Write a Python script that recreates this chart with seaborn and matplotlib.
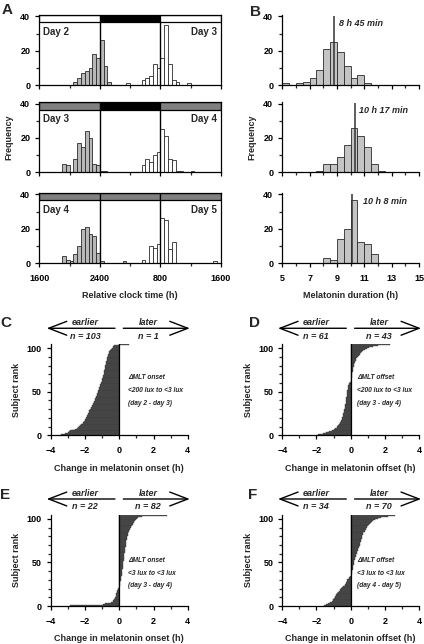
import numpy as np
import pandas as pd
import matplotlib
matplotlib.use("Agg")
import matplotlib.pyplot as plt
import seaborn as sns
from matplotlib.ticker import MultipleLocator, FixedLocator

# --- Panel A: onset (grey) and offset (white) times, hours after 1600, 30-min bins ---
a_onset_bins = [
    [4.5, 5.0, 5.5, 6.0, 6.5, 7.0, 7.5, 8.0, 8.5, 9.0],
    [3.0, 3.5, 4.5, 5.0, 5.5, 6.0, 6.5, 7.0, 7.5, 8.0, 8.5],
    [3.0, 3.5, 4.0, 4.5, 5.0, 5.5, 6.0, 6.5, 7.0, 7.5, 8.0, 11.0],
]
a_onset_counts = [
    [2, 4, 7, 8, 10, 18, 16, 26, 11, 2],
    [5, 4, 8, 17, 15, 24, 20, 5, 4, 1, 1],
    [4, 2, 1, 5, 10, 20, 21, 17, 16, 6, 1, 1],
]
a_offset_bins = [
    [11.5, 13.5, 14.0, 14.5, 15.0, 15.5, 16.0, 16.5, 17.0, 17.5, 18.0, 19.5],
    [13.5, 14.0, 14.5, 15.0, 15.5, 16.0, 16.5, 17.0, 17.5, 18.0, 18.5, 20.0],
    [13.5, 14.5, 15.0, 15.5, 16.0, 16.5, 17.0, 17.5, 23.0],
]
a_offset_counts = [
    [1, 3, 4, 5, 12, 10, 16, 35, 12, 3, 2, 1],
    [4, 8, 6, 10, 12, 25, 21, 8, 7, 1, 1, 1],
    [2, 10, 9, 11, 26, 25, 8, 12, 1],
]
day_labels = [("Day 2", "Day 3"), ("Day 3", "Day 4"), ("Day 4", "Day 5")]
light_starts = [0, 8, 16]
light_colors = [
    ["white", "black", "white"],
    ["#808080", "black", "#808080"],
    ["#808080", "#808080", "#808080"],
]
clock_ticks = [0, 8, 16, 24]
clock_labels = ["1600", "2400", "800", "1600"]

# --- Panel B: melatonin duration histograms (30-min bins) ---
b_bins = [
    [5.0, 6.0, 6.5, 7.0, 7.5, 8.0, 8.5, 9.0, 9.5, 10.0, 10.5, 11.0],
    [7.5, 8.0, 8.5, 9.0, 9.5, 10.0, 10.5, 11.0, 11.5, 12.0],
    [8.0, 8.5, 9.0, 9.5, 10.0, 10.5, 11.0, 11.5],
]
b_counts = [
    [1, 1, 2, 4, 9, 21, 25, 19, 11, 4, 6, 1],
    [1, 5, 5, 9, 16, 26, 21, 15, 5, 1],
    [3, 2, 14, 20, 37, 12, 11, 5],
]
b_medians = [8 + 45 / 60, 10 + 17 / 60, 10 + 8 / 60]
b_median_labels = ["8 h 45 min", "10 h 17 min", "10 h 8 min"]
b_ticks = [5, 7, 9, 11, 13, 15]

# --- Panels C-F: individual phase changes (h), sorted by subject rank ---
c_shift = [
    -3.4, -3.2, -3.0, -2.95, -2.9, -2.8, -2.6, -2.5, -2.4, -2.35, -2.3, -2.25,
    -2.2, -2.15, -2.1, -2.05, -2.02, -2.0, -1.98, -1.95, -1.92, -1.9, -1.88, -1.85,
    -1.83, -1.8, -1.78, -1.75, -1.72, -1.7, -1.67, -1.65, -1.62, -1.6, -1.57, -1.55,
    -1.52, -1.5, -1.47, -1.45, -1.43, -1.41, -1.39, -1.37, -1.35, -1.33, -1.31, -1.29,
    -1.27, -1.25, -1.24, -1.22, -1.2, -1.19, -1.17, -1.15, -1.13, -1.11, -1.09, -1.07,
    -1.05, -1.03, -1.02, -1.0, -0.99, -0.98, -0.96, -0.95, -0.94, -0.92, -0.91, -0.9,
    -0.89, -0.88, -0.87, -0.86, -0.85, -0.84, -0.83, -0.82, -0.81, -0.8, -0.79, -0.78,
    -0.76, -0.75, -0.74, -0.73, -0.72, -0.7, -0.68, -0.66, -0.64, -0.62, -0.6, -0.58,
    -0.55, -0.52, -0.49, -0.45, -0.4, -0.35, -0.3, 0.58,
]
d_shift = [
    -1.9, -1.6, -1.45, -1.25, -1.1, -1.0, -0.95, -0.9, -0.82, -0.78, -0.72, -0.68,
    -0.66, -0.64, -0.6, -0.57, -0.55, -0.53, -0.51, -0.49, -0.47, -0.46, -0.45, -0.43,
    -0.42, -0.41, -0.4, -0.39, -0.38, -0.36, -0.35, -0.34, -0.33, -0.32, -0.31, -0.3,
    -0.29, -0.29, -0.28, -0.27, -0.26, -0.26, -0.25, -0.24, -0.23, -0.23, -0.22, -0.21,
    -0.2, -0.2, -0.19, -0.18, -0.17, -0.16, -0.15, -0.14, -0.13, -0.12, -0.1, -0.07,
    -0.04, 0.01, 0.02, 0.03, 0.04, 0.05, 0.05, 0.06, 0.07, 0.08, 0.09, 0.1,
    0.11, 0.12, 0.13, 0.14, 0.15, 0.16, 0.17, 0.19, 0.2, 0.22, 0.23, 0.25,
    0.27, 0.29, 0.31, 0.34, 0.37, 0.4, 0.43, 0.47, 0.52, 0.57, 0.62, 0.68,
    0.74, 0.8, 0.86, 0.95, 1.1, 1.3, 1.6, 2.3,
]
e_shift = [
    -2.9, -0.95, -0.85, -0.5, -0.4, -0.35, -0.32, -0.29, -0.26, -0.24, -0.22, -0.21,
    -0.2, -0.19, -0.18, -0.16, -0.14, -0.12, -0.1, -0.08, -0.05, -0.02,
    0.01, 0.02, 0.03, 0.04, 0.05, 0.06, 0.07, 0.08,
    0.09, 0.1, 0.11, 0.12, 0.13, 0.13, 0.14, 0.15,
    0.16, 0.16, 0.17, 0.18, 0.19, 0.19, 0.2,
    0.21, 0.21, 0.22, 0.23, 0.24, 0.24, 0.25, 0.26,
    0.26, 0.27, 0.28, 0.28, 0.29, 0.29, 0.3,
    0.31, 0.31, 0.32, 0.33, 0.33, 0.34, 0.35, 0.36,
    0.36, 0.37, 0.38, 0.39, 0.39, 0.4, 0.41, 0.42,
    0.43, 0.44, 0.45, 0.47, 0.48, 0.5,
    0.52, 0.53, 0.55, 0.56, 0.58,
    0.61, 0.63, 0.66, 0.69, 0.72, 0.75,
    0.78, 0.81, 0.84, 0.87, 0.91, 0.95,
    1.0, 1.05, 1.1, 1.3, 2.77,
]
f_shift = [
    -1.55, -1.45, -1.33, -1.2, -1.09, -1.05, -1.02, -1.0, -0.97, -0.93, -0.9, -0.87,
    -0.84, -0.8, -0.77, -0.74, -0.7, -0.65, -0.6, -0.55, -0.5, -0.45, -0.4, -0.35,
    -0.32, -0.29, -0.26, -0.24, -0.21, -0.19, -0.16, -0.12, -0.08, -0.03, 0.02, 0.04,
    0.06, 0.07, 0.08, 0.09, 0.1, 0.11, 0.12, 0.13, 0.14, 0.15, 0.16, 0.17,
    0.18, 0.19, 0.2, 0.21, 0.23, 0.25, 0.27, 0.28, 0.3, 0.31, 0.33, 0.35,
    0.37, 0.38, 0.4, 0.42, 0.44, 0.45, 0.47, 0.49, 0.5, 0.52, 0.54, 0.55,
    0.57, 0.58, 0.6, 0.62, 0.63, 0.64, 0.66, 0.67, 0.69, 0.7, 0.72, 0.75,
    0.78, 0.82, 0.85, 0.88, 0.92, 0.95, 0.98, 1.01, 1.04, 1.07, 1.11, 1.17,
    1.24, 1.32, 1.4, 1.5, 1.62, 1.8, 2.2, 2.6,
]
shift_xlabels = ["Change in melatonin onset (h)", "Change in melatonin offset (h)",
                 "Change in melatonin onset (h)", "Change in melatonin offset (h)"]
shift_notes = [
    ["\u0394MLT onset", "<200 lux to <3 lux", "(day 2 - day 3)"],
    ["\u0394MLT offset", "<200 lux to <3 lux", "(day 3 - day 4)"],
    ["\u0394MLT onset", "<3 lux to <3 lux", "(day 3 - day 4)"],
    ["\u0394MLT offset", "<3 lux to <3 lux", "(day 4 - day 5)"],
]

sns.set_style("ticks")
plt.rcParams["font.family"] = ["Liberation Sans", "DejaVu Sans"]
plt.rcParams["font.weight"] = "bold"
plt.rcParams["axes.labelweight"] = "bold"
plt.rcParams["axes.linewidth"] = 0.9
plt.rcParams["axes.edgecolor"] = "black"

FS = 6.5
fig = plt.figure(figsize=(4.24, 6.44), dpi=100)


def style_ticks(ax, xpad=5, ypad=3.5):
    ax.tick_params(axis="both", which="major", direction="out", length=3, width=0.9,
                   labelsize=FS, colors="black")
    ax.tick_params(axis="both", which="minor", direction="out", length=2, width=0.9)
    ax.tick_params(axis="x", which="major", pad=xpad)
    ax.tick_params(axis="y", which="major", pad=ypad)


def binned_hist(ax, bins, counts, brange, color):
    df = pd.DataFrame({"t": np.array(bins) + 0.25, "n": counts})
    sns.histplot(data=df, x="t", weights="n", binwidth=0.5, binrange=brange, color=color,
                 edgecolor="#2b2b2b", linewidth=0.6, alpha=1, ax=ax)


row_bottoms = [0.868, 0.7325, 0.5916]
hist_h = 0.1092

# ---------- A ----------
for i in range(3):
    ax = fig.add_axes([0.0927, row_bottoms[i], 0.4285, hist_h])
    binned_hist(ax, a_onset_bins[i], a_onset_counts[i], (0, 24), "#b8b8b8")
    binned_hist(ax, a_offset_bins[i], a_offset_counts[i], (0, 24), "white")
    ax.broken_barh([(s, 8) for s in light_starts], (36.5, 4.5), facecolors=light_colors[i],
                   edgecolor="black", linewidth=0.9)
    ax.vlines(light_starts[1:], 0, 36.5, color="black", lw=1)
    ax.set_xlim(0, 24)
    ax.set_ylim(0, 41)
    ax.xaxis.set_major_locator(FixedLocator(clock_ticks))
    ax.xaxis.set_minor_locator(FixedLocator([4, 12, 20]))
    ax.yaxis.set_major_locator(FixedLocator([0, 20, 40]))
    ax.yaxis.set_minor_locator(FixedLocator([10, 30]))
    style_ticks(ax)
    ax.set_ylabel("")
    ax.set_xlabel("")
    if i == 2:
        ax.set_xticklabels(clock_labels)
        ax.set_xlabel("Relative clock time (h)", fontsize=FS, labelpad=6)
    else:
        ax.set_xticklabels([])
    if i == 1:
        ax.set_ylabel("Frequency", fontsize=FS, labelpad=5)
    ax.text(0.019, 31, day_labels[i][0], transform=ax.get_yaxis_transform(),
            fontsize=7, ha="left", va="center")
    ax.text(0.976, 31, day_labels[i][1], transform=ax.get_yaxis_transform(),
            fontsize=7, ha="right", va="center")

# ---------- B ----------
label_x = [9.14, 10.62, 10.87]
for i in range(3):
    ax = fig.add_axes([0.6658, row_bottoms[i], 0.3224, hist_h])
    binned_hist(ax, b_bins[i], b_counts[i], (5, 15), "#c4c4c4")
    ax.vlines(b_medians[i], 0, 40.5, color="#333333", lw=1.1)
    ax.text(label_x[i], 36, b_median_labels[i], fontsize=FS, style="italic",
            ha="left", va="center")
    ax.set_xlim(5, 15)
    ax.set_ylim(0, 41)
    ax.xaxis.set_major_locator(FixedLocator(b_ticks))
    ax.xaxis.set_minor_locator(MultipleLocator(1))
    ax.yaxis.set_major_locator(FixedLocator([0, 20, 40]))
    ax.yaxis.set_minor_locator(FixedLocator([10, 30]))
    sns.despine(ax=ax)
    style_ticks(ax)
    ax.set_ylabel("")
    ax.set_xlabel("")
    if i == 2:
        ax.set_xlabel("Melatonin duration (h)", fontsize=FS, labelpad=6)
    else:
        ax.set_xticklabels([])
    if i == 1:
        ax.set_ylabel("Frequency", fontsize=FS, labelpad=5)

# ---------- C-F ----------
shift_data = [c_shift, d_shift, e_shift, f_shift]
shift_pos = [[0.1203, 0.3241], [0.6658, 0.3241], [0.1203, 0.059], [0.6658, 0.059]]
note_x = [0.5, 0.4, 0.5, 0.4]
note_y = [[66, 51, 36.7], [66, 51, 36.7], [52, 37.6, 23], [52, 37.6, 23]]
arrow_kw = dict(arrowstyle="->,head_length=1.3,head_width=0.5", lw=1.0, color="black",
                shrinkA=0, shrinkB=0, mutation_scale=10)

for k in range(4):
    vals = np.array(shift_data[k])
    ranks = np.arange(1, len(vals) + 1)
    ax = fig.add_axes([shift_pos[k][0], shift_pos[k][1], 0.3224, 0.1419])
    sns.barplot(x=vals, y=ranks, orient="h", native_scale=True, width=1.0,
                color="#565656", edgecolor="#333333", linewidth=0.25, errorbar=None, ax=ax)
    ax.axvline(0, color="black", lw=0.9)
    ax.set_xlim(-4, 4)
    ax.set_ylim(0, 105)
    ax.xaxis.set_major_locator(MultipleLocator(2))
    ax.xaxis.set_minor_locator(MultipleLocator(1))
    ax.yaxis.set_major_locator(FixedLocator([0, 50, 100]))
    ax.yaxis.set_minor_locator(MultipleLocator(10))
    sns.despine(ax=ax)
    style_ticks(ax)
    ax.set_xlabel(shift_xlabels[k], fontsize=FS, labelpad=6)
    ax.set_ylabel("Subject rank", fontsize=FS, labelpad=4)
    for line, yv in zip(shift_notes[k], note_y[k]):
        ax.text(note_x[k], yv, line, fontsize=4.8, style="italic", ha="left", va="center")

    n_earlier = int((vals < 0).sum())
    n_later = int((vals > 0).sum())
    ay = 1.171
    ax.annotate("", xy=(-0.031, ay), xytext=(0.468, ay), xycoords="axes fraction",
                arrowprops=arrow_kw, annotation_clip=False)
    ax.annotate("", xy=(1.015, ay), xytext=(0.529, ay), xycoords="axes fraction",
                arrowprops=arrow_kw, annotation_clip=False)
    ax.text(0.249, 1.236, "earlier", transform=ax.transAxes, fontsize=FS, style="italic",
            ha="center", va="center")
    ax.text(0.71, 1.236, "later", transform=ax.transAxes, fontsize=FS, style="italic",
            ha="center", va="center")
    ax.text(0.249, 1.085, f"n = {n_earlier}", transform=ax.transAxes, fontsize=FS,
            style="italic", ha="center", va="center")
    ax.text(0.71, 1.085, f"n = {n_later}", transform=ax.transAxes, fontsize=FS,
            style="italic", ha="center", va="center")

# panel letters
for letter, x, y in [("A", 0.004, 0.996), ("B", 0.589, 0.993), ("C", 0.0, 0.509),
                     ("D", 0.587, 0.509), ("E", 0.0, 0.243), ("F", 0.585, 0.243)]:
    fig.text(x, y, letter, fontsize=11, fontweight="bold", ha="left", va="top")

fig.savefig("out.png", dpi=100)
